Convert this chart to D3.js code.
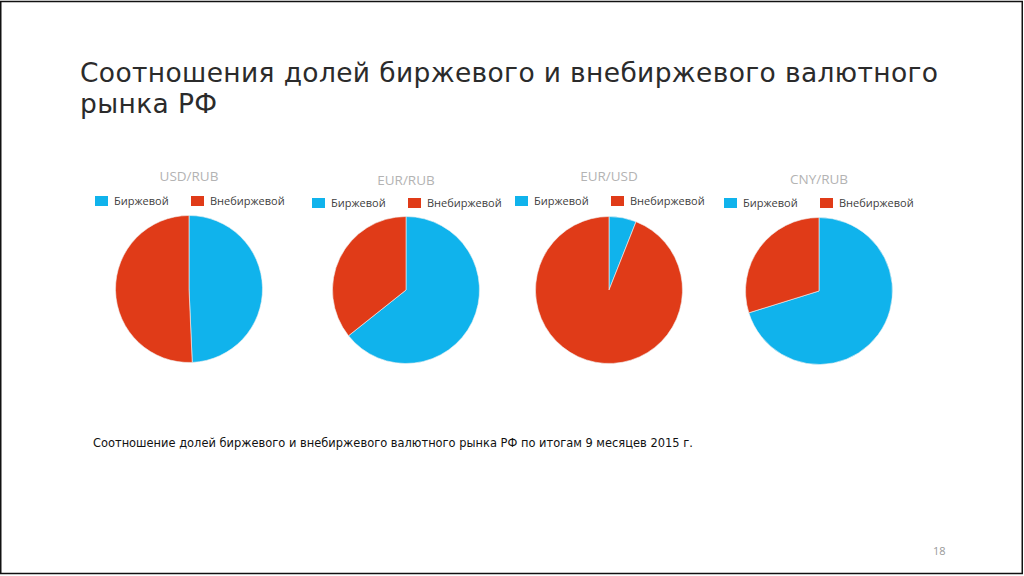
<!DOCTYPE html>
<html><head><meta charset="utf-8">
<script src="https://cdn.jsdelivr.net/npm/d3@7"></script>
<style>html,body{margin:0;padding:0;background:#fff;}svg{display:block;}</style>
</head><body>
<svg id="c" width="1024" height="576"></svg>
<script>
const pairs = ["USD/RUB", "EUR/RUB", "EUR/USD", "CNY/RUB"];
const seriesNames = ["Биржевой", "Внебиржевой"];
const exchangeShare = [49.3, 64.3, 6.0, 70.2];
const otcShare = [50.7, 35.7, 94.0, 29.8];
const colors = ["#10b3ec", "#e03b18"];
const titleLines = ["Соотношения долей биржевого и внебиржевого валютного", "рынка РФ"];
const caption = "Соотношение долей биржевого и внебиржевого валютного рынка РФ по итогам 9 месяцев 2015 г.";
const pageNumber = "18";

const svg = d3.select("#c");
svg.append("rect").attr("x",0.75).attr("y",1.5).attr("width",1021.5).attr("height",572).attr("fill","none").attr("stroke","#111").attr("stroke-width",1.5);

const titleTexts = titleLines.map((t, i) => svg.append("text").attr("x",80).attr("y",82 + i*31)
  .attr("font-family","'DejaVu Sans', sans-serif").attr("font-size",26.5).attr("fill","#2b2b2b").text(t));
const w0 = titleTexts[0].node().getComputedTextLength();
const ls = (858 - w0) / (titleLines[0].length - 1);
titleTexts.forEach(t => t.attr("letter-spacing", ls));

const centersX = d3.scaleOrdinal().domain(pairs).range([189, 406, 609, 819]);
const centersY = [289, 290, 290, 291];
const titleY = [181, 185, 181, 184];
const legendY = [201, 203, 201, 203];
const legendX = [95, 312, 515, 724];
const color = d3.scaleOrdinal().domain(seriesNames).range(colors);
const pie = d3.pie().sort(null).value(d => d.value);
const arc = d3.arc().innerRadius(0).outerRadius(73.5);

pairs.forEach((p, i) => {
  const data = [{name: seriesNames[0], value: exchangeShare[i]}, {name: seriesNames[1], value: otcShare[i]}];
  const g = svg.append("g").attr("transform", `translate(${centersX(p)},${centersY[i]})`);
  g.selectAll("path").data(pie(data)).join("path").attr("d", arc).attr("fill", d => color(d.data.name)).attr("stroke","#f2f2f2").attr("stroke-width",0.6);
  svg.append("text").attr("x", centersX(p)).attr("y", titleY[i]).attr("text-anchor","middle")
    .attr("font-family","'Open Sans', sans-serif").attr("font-size",13.5).attr("fill","#b3b3b3").text(p);
  const lg = svg.append("g").attr("transform", `translate(${legendX[i]},${legendY[i]})`);
  seriesNames.forEach((s, j) => {
    const ox = j * 96;
    lg.append("rect").attr("x", ox).attr("y", -5).attr("width", 13).attr("height", 10).attr("fill", color(s));
    lg.append("text").attr("x", ox + 19).attr("y", 4).attr("font-family","'Open Sans', sans-serif").attr("font-size",11).attr("fill","#404040").text(s);
  });
});

svg.append("text").attr("x",93).attr("y",447).attr("font-family","'DejaVu Sans', sans-serif").attr("font-size",11.45).attr("fill","#111").text(caption);
svg.append("text").attr("x",933).attr("y",555).attr("font-family","'Open Sans', sans-serif").attr("font-size",11).attr("fill","#999").text(pageNumber);
</script>
</body></html>
